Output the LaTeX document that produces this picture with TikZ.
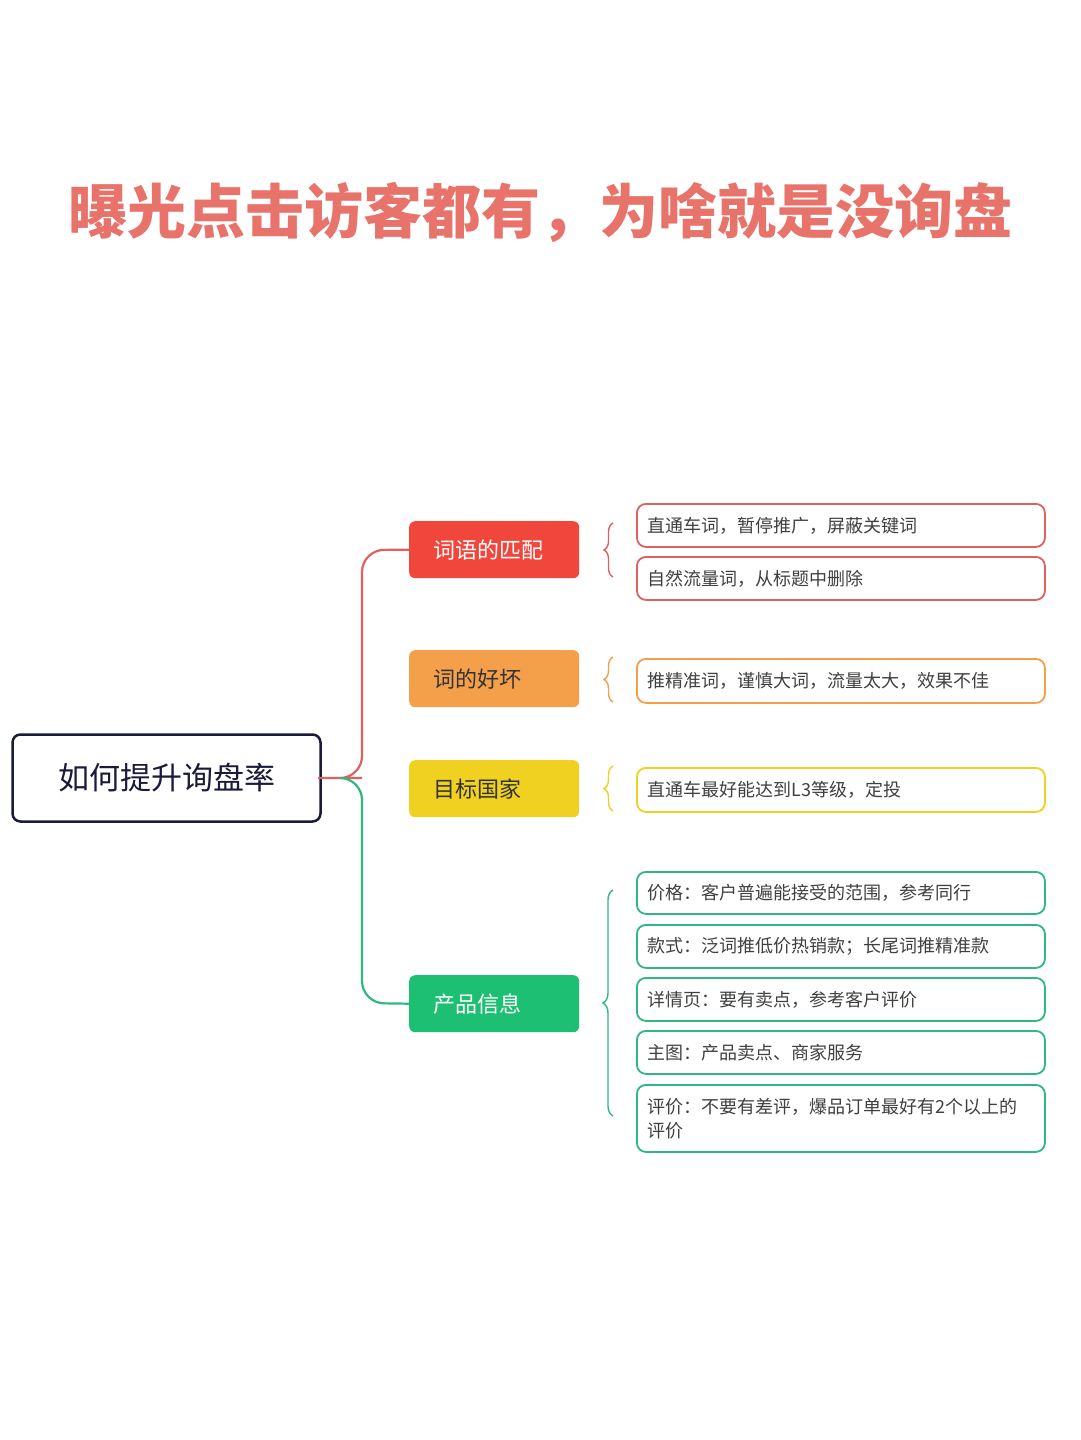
\documentclass[tikz,border=0pt]{standalone}
\usepackage{fontspec}
\setmainfont{Noto Sans CJK SC}
\newfontfamily\titlefont{Noto Sans CJK SC Black}
\usetikzlibrary{decorations.pathreplacing,calc}
\definecolor{cred}{HTML}{F0463C}
\definecolor{cora}{HTML}{F4A04A}
\definecolor{cyel}{HTML}{F0D020}
\definecolor{cgrn}{HTML}{1DBF73}
\definecolor{cnavy}{HTML}{1A1A3A}
\definecolor{ctitle}{HTML}{E8736A}
\definecolor{ltred}{HTML}{E06060}
\definecolor{ltgrn}{HTML}{30B880}
\tikzset{
 cat/.style={rounded corners=6pt,minimum width=170pt,minimum height=57pt,inner xsep=24pt,anchor=north west,font=\fontsize{22}{26}\selectfont,align=left,text width=122pt},
 leaf/.style={draw,line width=1.8pt,rounded corners=9pt,anchor=north west,minimum width=408pt,inner xsep=10pt,font=\fontsize{18}{24}\selectfont,text width=386pt,align=left,text=black!75},
 brc/.style={decorate,decoration={brace,amplitude=9pt,mirror},line width=1.4pt},
}
\begin{document}
\begin{tikzpicture}[x=1pt,y=-1pt]
\useasboundingbox[fill=white] (0,0) rectangle (1080,1440);
% title
\node[font=\titlefont\fontsize{59}{66}\selectfont,text=ctitle] (title) at (540,212) {曝光点击访客都有，为啥就是没询盘};
% root
\node[draw=cnavy,line width=2.5pt,rounded corners=8pt,minimum width=308pt,minimum height=87pt,font=\fontsize{31}{34}\selectfont,text=cnavy] (root) at (166.5,778) {如何提升询盘率};
% categories
\node[cat,fill=cred,text=white] (c1) at (409,521) {词语的匹配};
\node[cat,fill=cora,text=black!80] (c2) at (409,650) {词的好坏};
\node[cat,fill=cyel,text=black!80] (c3) at (409,760) {目标国家};
\node[cat,fill=cgrn,text=white] (c4) at (409,975) {产品信息};
% connectors
\coordinate (j) at (340,778);
\draw[ltred,line width=2.2pt,rounded corners=22pt] (root.east) -- (j) -- (362,778) -- (362,550) -- (c1.west);
\draw[ltgrn,line width=2.2pt,rounded corners=22pt] (j) -- (362,778) -- (362,1003) -- (c4.west);
% leaves
\node[leaf,draw=ltred,minimum height=43pt] (l1) at (636,503) {直通车词，暂停推广，屏蔽关键词};
\node[leaf,draw=ltred,minimum height=43pt] (l2) at (636,556) {自然流量词，从标题中删除};
\node[leaf,draw=cora,minimum height=44pt] (l3) at (636,658) {推精准词，谨慎大词，流量太大，效果不佳};
\node[leaf,draw=cyel,minimum height=44pt] (l4) at (636,767) {直通车最好能达到L3等级，定投};
\node[leaf,draw=ltgrn,minimum height=42pt] (g1) at (636,871) {价格：客户普遍能接受的范围，参考同行};
\node[leaf,draw=ltgrn,minimum height=43pt] (g2) at (636,924) {款式：泛词推低价热销款；长尾词推精准款};
\node[leaf,draw=ltgrn,minimum height=43pt] (g3) at (636,977) {详情页：要有卖点，参考客户评价};
\node[leaf,draw=ltgrn,minimum height=43pt] (g4) at (636,1030) {主图：产品卖点、商家服务};
\node[leaf,draw=ltgrn,minimum height=67pt] (g5) at (636,1084) {评价：不要有差评，爆品订单最好有2个以上的\\评价};
% braces
\draw[brc,ltred] (613,523) -- (613,577);
\draw[brc,cora] (613,657) -- (613,702);
\draw[brc,cyel] (613,766) -- (613,811);
\draw[brc,ltgrn,decoration={amplitude=10pt}] (613,890) -- (613,1116);
\end{tikzpicture}
\end{document}
